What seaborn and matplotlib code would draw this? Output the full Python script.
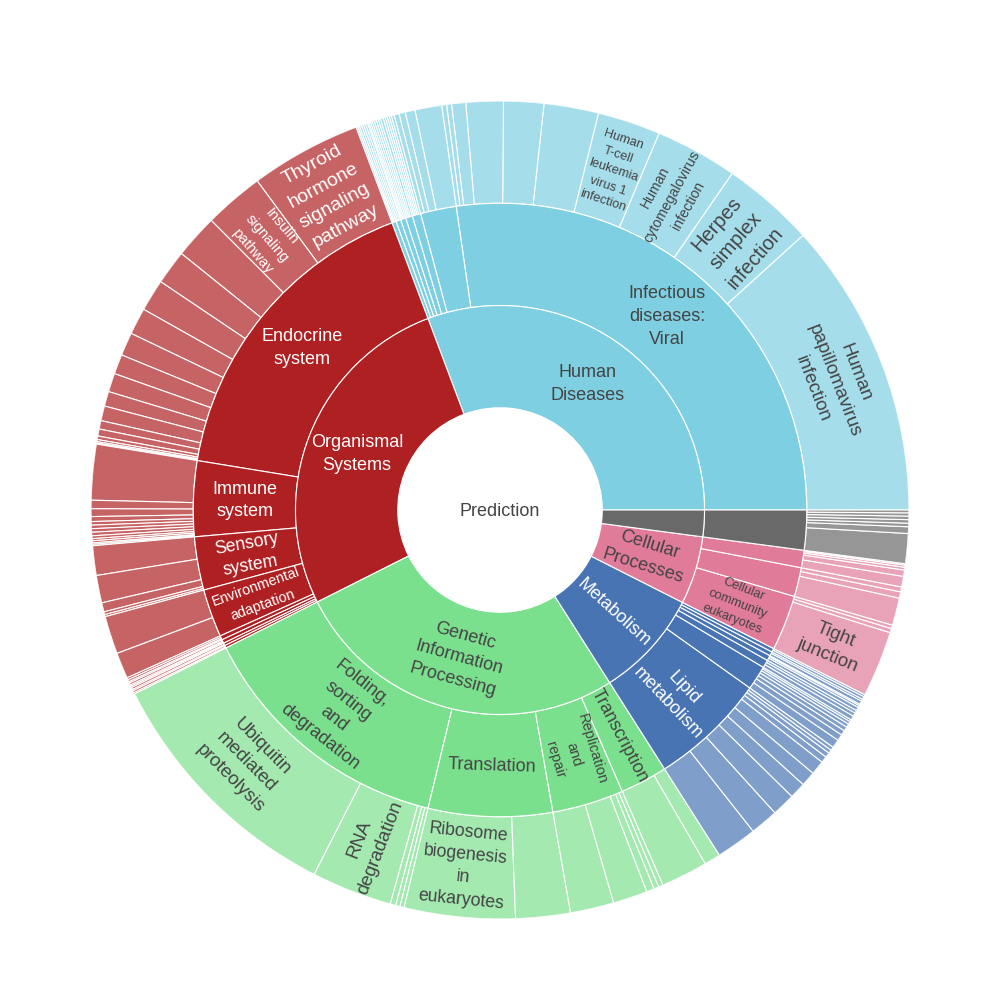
import numpy as np
import matplotlib
matplotlib.use("Agg")
import matplotlib.pyplot as plt
import matplotlib.colors as mcolors
import seaborn as sns

root_label = "Prediction"

# inner ring, in drawing order (counter-clockwise from 3 o'clock)
level1 = ["Human Diseases", "Organismal Systems", "Genetic Information Processing",
          "Metabolism", "Cellular Processes", "Environmental Information Processing"]
level1_colors = ["#7ECFE1", "#AE2022", "#7BE08E", "#4874B3", "#E07B9A", "#696969"]

# Human Diseases
hd_level2 = ["Infectious diseases: Viral", "Cancer: overview", "Infectious diseases: Bacterial",
             "Neurodegenerative disease", "Cancer: specific types", "Cardiovascular disease",
             "Endocrine and metabolic disease"]
hd_leaves = [[42.2, 13.2, 11.7, 8.95, 7.75, 5.7, 5.3, 2.0, 0.7, 0.7],
             [3.8, 1.4, 0.9, 0.7],
             [0.4, 0.3, 0.3, 0.3, 0.3],
             [0.4, 0.3, 0.3, 0.3],
             [0.3, 0.25, 0.25, 0.2],
             [0.3, 0.3, 0.3],
             [0.3, 0.25, 0.25]]
hd_leaf_names = [["Human papillomavirus infection", "Herpes simplex infection",
                  "Human cytomegalovirus infection", "Human T-cell leukemia virus 1 infection"]]

# Organismal Systems
os_level2 = ["Endocrine system", "Immune system", "Sensory system", "Environmental adaptation",
             "Nervous system", "Digestive system", "Excretory system", "Circulatory system"]
os_leaves = [[15.8, 8.5, 6.25, 4.9, 4.55, 3.8, 3.3, 2.8, 2.65, 2.1, 2.1, 1.2, 1.0, 0.5, 0.3, 0.2, 0.15],
             [7.9, 1.2, 1.1, 0.7, 0.5, 0.5, 0.5, 0.5, 0.4, 0.3, 0.3, 0.2, 0.2],
             [4.2, 3.9, 1.3, 0.4, 0.3],
             [5.4, 3.7],
             [0.3, 0.3, 0.2],
             [0.3, 0.2, 0.2],
             [0.3, 0.2],
             [0.3, 0.2]]
os_leaf_names = [["Thyroid hormone signaling pathway", "Insulin signaling pathway"]]

# Genetic Information Processing
gi_level2 = ["Folding, sorting and degradation", "Translation", "Replication and repair", "Transcription"]
gi_leaves = [[36.25, 11.45, 0.8, 0.6, 0.6],
             [15.75, 7.75],
             [6.2, 4.9, 1.1, 0.7, 0.65],
             [6.65, 2.3]]
gi_leaf_names = [["Ubiquitin mediated proteolysis", "RNA degradation"],
                 ["Ribosome biogenesis in eukaryotes"]]

# Metabolism
me_level2 = ["Lipid metabolism", "Carbohydrate metabolism", "Amino acid metabolism",
             "Glycan biosynthesis and metabolism", "Energy metabolism", "Nucleotide metabolism"]
me_leaves = [[5.8, 4.0, 3.3, 2.3, 2.1, 2.0, 0.9, 0.7, 0.5, 0.5],
             [1.2, 0.9, 0.7, 0.6, 0.5, 0.4, 0.3],
             [0.6, 0.5, 0.4],
             [0.5, 0.3, 0.2],
             [0.5, 0.3],
             [0.4, 0.3]]
me_leaf_names = []

# Cellular Processes
cp_level2 = ["Cellular community - eukaryotes", "Cell growth and death", "Transport and catabolism"]
cp_leaves = [[9.4, 0.6, 0.5],
             [3.9, 0.9, 0.7],
             [1.5, 0.9, 0.4, 0.3, 0.2]]
cp_leaf_names = [["Tight junction"]]

# Environmental Information Processing
ei_level2 = ["Signal transduction"]
ei_leaves = [[4.25, 0.95, 0.5, 0.5, 0.5, 0.45, 0.4]]
ei_leaf_names = []

groups = [(hd_level2, hd_leaves, hd_leaf_names),
          (os_level2, os_leaves, os_leaf_names),
          (gi_level2, gi_leaves, gi_leaf_names),
          (me_level2, me_leaves, me_leaf_names),
          (cp_level2, cp_leaves, cp_leaf_names),
          (ei_level2, ei_leaves, ei_leaf_names)]

# display text, font size (pt), orientation: h=horizontal, r=radial, t=tangential
label_style = {
    "Human Diseases": ("Human\nDiseases", 13, "h"),
    "Organismal Systems": ("Organismal\nSystems", 13, "h"),
    "Genetic Information Processing": ("Genetic\nInformation\nProcessing", 13, "t"),
    "Metabolism": ("Metabolism", 13, "r"),
    "Cellular Processes": ("Cellular\nProcesses", 13, "r"),
    "Infectious diseases: Viral": ("Infectious\ndiseases:\nViral", 13, "h"),
    "Endocrine system": ("Endocrine\nsystem", 13, "h"),
    "Immune system": ("Immune\nsystem", 13, "h"),
    "Sensory system": ("Sensory\nsystem", 12.7, "r"),
    "Environmental adaptation": ("Environmental\nadaptation", 10.4, "r"),
    "Folding, sorting and degradation": ("Folding,\nsorting\nand\ndegradation", 13, "t"),
    "Translation": ("Translation", 13, "t"),
    "Replication and repair": ("Replication\nand\nrepair", 10.5, "r"),
    "Transcription": ("Transcription", 13, "r"),
    "Lipid metabolism": ("Lipid\nmetabolism", 13, "r"),
    "Cellular community - eukaryotes": ("Cellular\ncommunity\neukaryotes", 9.3, "r"),
    "Human papillomavirus infection": ("Human\npapillomavirus\ninfection", 13.5, "t"),
    "Herpes simplex infection": ("Herpes\nsimplex\ninfection", 14.5, "r"),
    "Human cytomegalovirus infection": ("Human\ncytomegalovirus\ninfection", 10.2, "r"),
    "Human T-cell leukemia virus 1 infection": ("Human\nT-cell\nleukemia\nvirus 1\ninfection", 9.2, "t"),
    "Thyroid hormone signaling pathway": ("Thyroid\nhormone\nsignaling\npathway", 14, "t"),
    "Insulin signaling pathway": ("Insulin\nsignaling\npathway", 10.5, "r"),
    "Ubiquitin mediated proteolysis": ("Ubiquitin\nmediated\nproteolysis", 13.5, "t"),
    "RNA degradation": ("RNA\ndegradation", 13.5, "r"),
    "Ribosome biogenesis in eukaryotes": ("Ribosome\nbiogenesis\nin\neukaryotes", 12.7, "t"),
    "Tight junction": ("Tight\njunction", 13.5, "r"),
}

sns.set_theme(style="white")
plt.rcParams["font.family"] = ["Liberation Sans", "DejaVu Sans"]

RING = 102.25
DARK = "#444444"


def lighten(color, alpha=0.7):
    # plotly draws leaves at 70% opacity over white
    rgb = np.array(mcolors.to_rgb(color))
    return tuple(alpha * rgb + (1 - alpha))


def text_rotation(mid_deg, mode):
    if mode == "h":
        return 0
    rot = mid_deg if mode == "r" else mid_deg - 90
    return (rot + 90) % 180 - 90


def draw_segment(ax, t0, t1, ring, color):
    ax.bar((t0 + t1) / 2, RING, width=t1 - t0, bottom=RING * ring, color=color,
           edgecolor="white", linewidth=0.8, align="center")


def draw_label(ax, name, t0, t1, ring, color):
    if name not in label_style:
        return
    text, size, mode = label_style[name]
    mid = (t0 + t1) / 2
    ax.text(mid, RING * (ring + 0.5), text, fontsize=size, color=color,
            rotation=text_rotation(np.degrees(mid), mode), rotation_mode="anchor",
            ha="center", va="center", linespacing=1.45)


fig = plt.figure(figsize=(10, 10), dpi=100)
ax = fig.add_axes([0.091, 0.081, 0.818, 0.818], projection="polar")
ax.set_ylim(0, RING * 4)
ax.axis("off")

total = sum(sum(v) for _, leaves, _ in groups for v in leaves)
scale = 2 * np.pi / total

pos = 0.0
for cat, base, (l2_names, leaves, leaf_names) in zip(level1, level1_colors, groups):
    cat_start = pos
    white_text = cat in ("Organismal Systems", "Metabolism")
    for j, l2 in enumerate(l2_names):
        l2_start = pos
        names = leaf_names[j] if j < len(leaf_names) else []
        for k, v in enumerate(leaves[j]):
            t0, t1 = pos, pos + v * scale
            draw_segment(ax, t0, t1, 3, lighten(base))
            if k < len(names):
                draw_label(ax, names[k], t0, t1, 3,
                           "white" if cat == "Organismal Systems" else DARK)
            pos = t1
        draw_segment(ax, l2_start, pos, 2, base)
        draw_label(ax, l2, l2_start, pos, 2, "white" if white_text else DARK)
    draw_segment(ax, cat_start, pos, 1, base)
    draw_label(ax, cat, cat_start, pos, 1, "white" if white_text else DARK)

ax.text(0, 0, root_label, fontsize=13, color=DARK, ha="center", va="center_baseline")

plt.savefig("out.png", dpi=100, facecolor="white")
